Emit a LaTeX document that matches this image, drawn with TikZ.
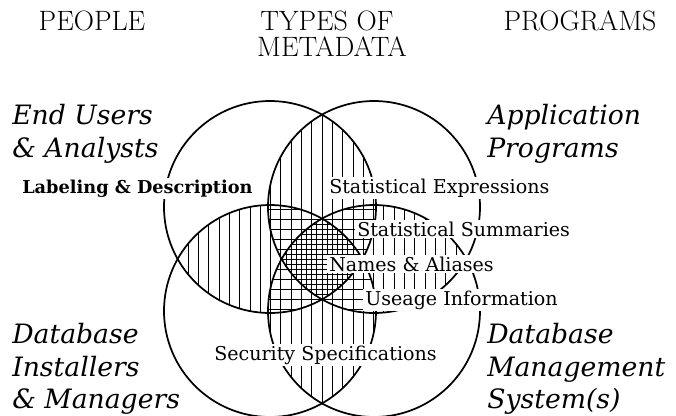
\documentclass[tikz,border=0pt]{standalone}
\usepackage{fontspec}
\newfontfamily\dvserif{DejaVu Serif}
\begin{document}
\begin{tikzpicture}[x=0.75pt,y=0.75pt,yscale=-1,xscale=1,
        ring/.style={line width=1.3pt},
        hatch/.style={line width=0.6pt},
        heading/.style={font=\fontsize{21}{25}\selectfont,anchor=base,inner sep=0pt},
        group/.style={font=\dvserif\itshape\fontsize{20}{24}\selectfont,anchor=base west,inner sep=0pt},
        kind/.style={font=\dvserif\fontsize{14.3}{17}\selectfont,anchor=base west,fill=white,inner sep=1.5pt}]
        \useasboundingbox (0,0) rectangle (676,415);

        %Centres of the four circles
        \coordinate (tl) at (270,207);
        \coordinate (tr) at (374,207);
        \coordinate (bl) at (270,311);
        \coordinate (br) at (374,311);

        %Hatching: vertical lines where two circles meet
        \foreach \a/\b in {tl/tr,bl/br,tl/bl,tr/br,tl/br,tr/bl}{
            \begin{scope}
                \clip (\a) circle [radius=106];
                \clip (\b) circle [radius=106];
                \foreach \x in {167.5,177.8,...,480} \draw [hatch] (\x,90) -- (\x,420);
            \end{scope}
        }
        %Hatching: horizontal lines where three circles meet
        \foreach \a/\b/\c in {tl/tr/bl,tl/tr/br,tl/bl/br,tr/bl/br}{
            \begin{scope}
                \clip (\a) circle [radius=106];
                \clip (\b) circle [radius=106];
                \clip (\c) circle [radius=106];
                \foreach \y in {109,119,...,409} \draw [hatch] (160,\y) -- (490,\y);
            \end{scope}
        }
        %Hatching: finer grid where all four circles meet
        \begin{scope}
            \clip (tl) circle [radius=106];
            \clip (tr) circle [radius=106];
            \clip (bl) circle [radius=106];
            \clip (br) circle [radius=106];
            \foreach \y in {114,124,...,404} \draw [hatch] (160,\y) -- (490,\y);
            \foreach \x in {172.65,182.95,...,480} \draw [hatch] (\x,90) -- (\x,420);
        \end{scope}

        %Shape: Circles
        \foreach \c in {tl,tr,bl,br} \draw [ring] (\c) circle [radius=106];

        % Text Node: headings
        \node (people) [heading] at (92,30) {PEOPLE};
        \node (types) [heading] at (327,30) {TYPES OF};
        \node (metadata) [heading] at (332,56) {METADATA};
        \node (programs) [heading] at (580,30) {PROGRAMS};

        % Text Node: people and programs
        \node (endusers) [group] at (12,124) {End Users};
        \node (analysts) [group] at (12,157) {\& Analysts};
        \node (application) [group] at (487,124) {Application};
        \node (applprograms) [group] at (487,157) {Programs};
        \node (dbleft) [group] at (12,343) {Database};
        \node (installers) [group] at (12,376) {Installers};
        \node (managers) [group] at (12,408) {\& Managers};
        \node (dbright) [group] at (487,343) {Database};
        \node (management) [group] at (487,376) {Management};
        \node (systems) [group] at (487,408) {System(s)};

        % Text Node: types of metadata
        \node (labeling) [kind,font=\dvserif\bfseries\fontsize{13.3}{16}\selectfont] at (20,193) {Labeling \& Description};
        \node (expressions) [kind] at (327,193) {Statistical Expressions};
        \node (summaries) [kind] at (355,236) {Statistical Summaries};
        \node (names) [kind] at (327,271) {Names \& Aliases};
        \node (usage) [kind] at (363,305) {Useage Information};
        \node (security) [kind] at (212,360) {Security Specifications};

\end{tikzpicture}
\end{document}
